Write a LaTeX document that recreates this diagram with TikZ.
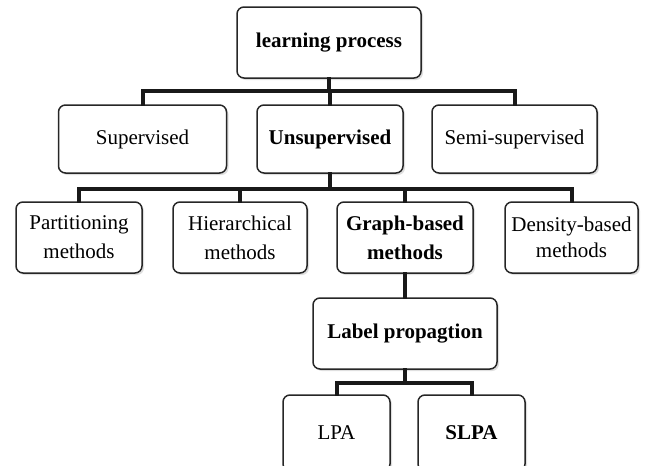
\documentclass[tikz,border=0pt]{standalone}
\usepackage{fontspec}
\setmainfont{Liberation Serif}
\usetikzlibrary{shadows}
\begin{document}
\begin{tikzpicture}[x=1pt,y=-1pt,
  box/.style={draw=black!85, line width=1.5pt, rounded corners=7pt, fill=white,
    align=center, inner sep=2pt,
    font=\fontsize{21}{29}\selectfont,
    drop shadow={shadow xshift=2pt, shadow yshift=-2pt, opacity=0.25, fill=gray}},
  conn/.style={draw=black!90, line width=4pt, line cap=rect, line join=miter}]
\useasboundingbox (0,0) rectangle (649,466);
% nodes
\node[box, minimum width=184pt, minimum height=71pt] (lp) at (329,42.5) {\textbf{learning process}};
\node[box, minimum width=168pt, minimum height=68pt] (sup) at (142.5,139) {Supervised};
\node[box, minimum width=146pt, minimum height=68pt] (uns) at (330,139) {\textbf{Unsupervised}};
\node[box, minimum width=165pt, minimum height=68pt] (semi) at (514.5,139) {Semi-supervised};
\node[box, minimum width=126pt, minimum height=71pt] (part) at (79,237.5) {Partitioning\\methods};
\node[box, minimum width=134pt, minimum height=71pt] (hier) at (240,237.5) {Hierarchical\\methods};
\node[box, minimum width=136pt, minimum height=71pt] (graph) at (405,237.5) {\textbf{Graph-based}\\\textbf{methods}};
\node[box, minimum width=133pt, minimum height=71pt, font=\fontsize{21}{26}\selectfont] (dens) at (571.5,237.5) {Density-based\\methods};
\node[box, minimum width=184pt, minimum height=71pt] (lprop) at (405,333.5) {\textbf{Label propagtion}};
\node[box, minimum width=107pt, minimum height=76pt] (lpa) at (336.5,433) {LPA};
\node[box, minimum width=107pt, minimum height=76pt] (slpa) at (471.5,433) {\textbf{SLPA}};
% junctions
\coordinate (b1) at (329,91);
\coordinate (b2) at (330,189);
\coordinate (b3) at (405,383);
% connectors
\draw[conn] (lp.south) -- (b1);
\draw[conn] (sup.north) |- (b1) -| (semi.north);
\draw[conn] (uns.north |- b1) -- (uns.north);
\draw[conn] (uns.south) -- (b2);
\draw[conn] (part.north) |- (b2) -| (dens.north);
\draw[conn] (hier.north) -- (hier.north |- b2);
\draw[conn] (graph.north) -- (graph.north |- b2);
\draw[conn] (graph.south) -- (lprop.north);
\draw[conn] (lprop.south) -- (b3);
\draw[conn] (lpa.north) |- (b3) -| (slpa.north);
\end{tikzpicture}
\end{document}
